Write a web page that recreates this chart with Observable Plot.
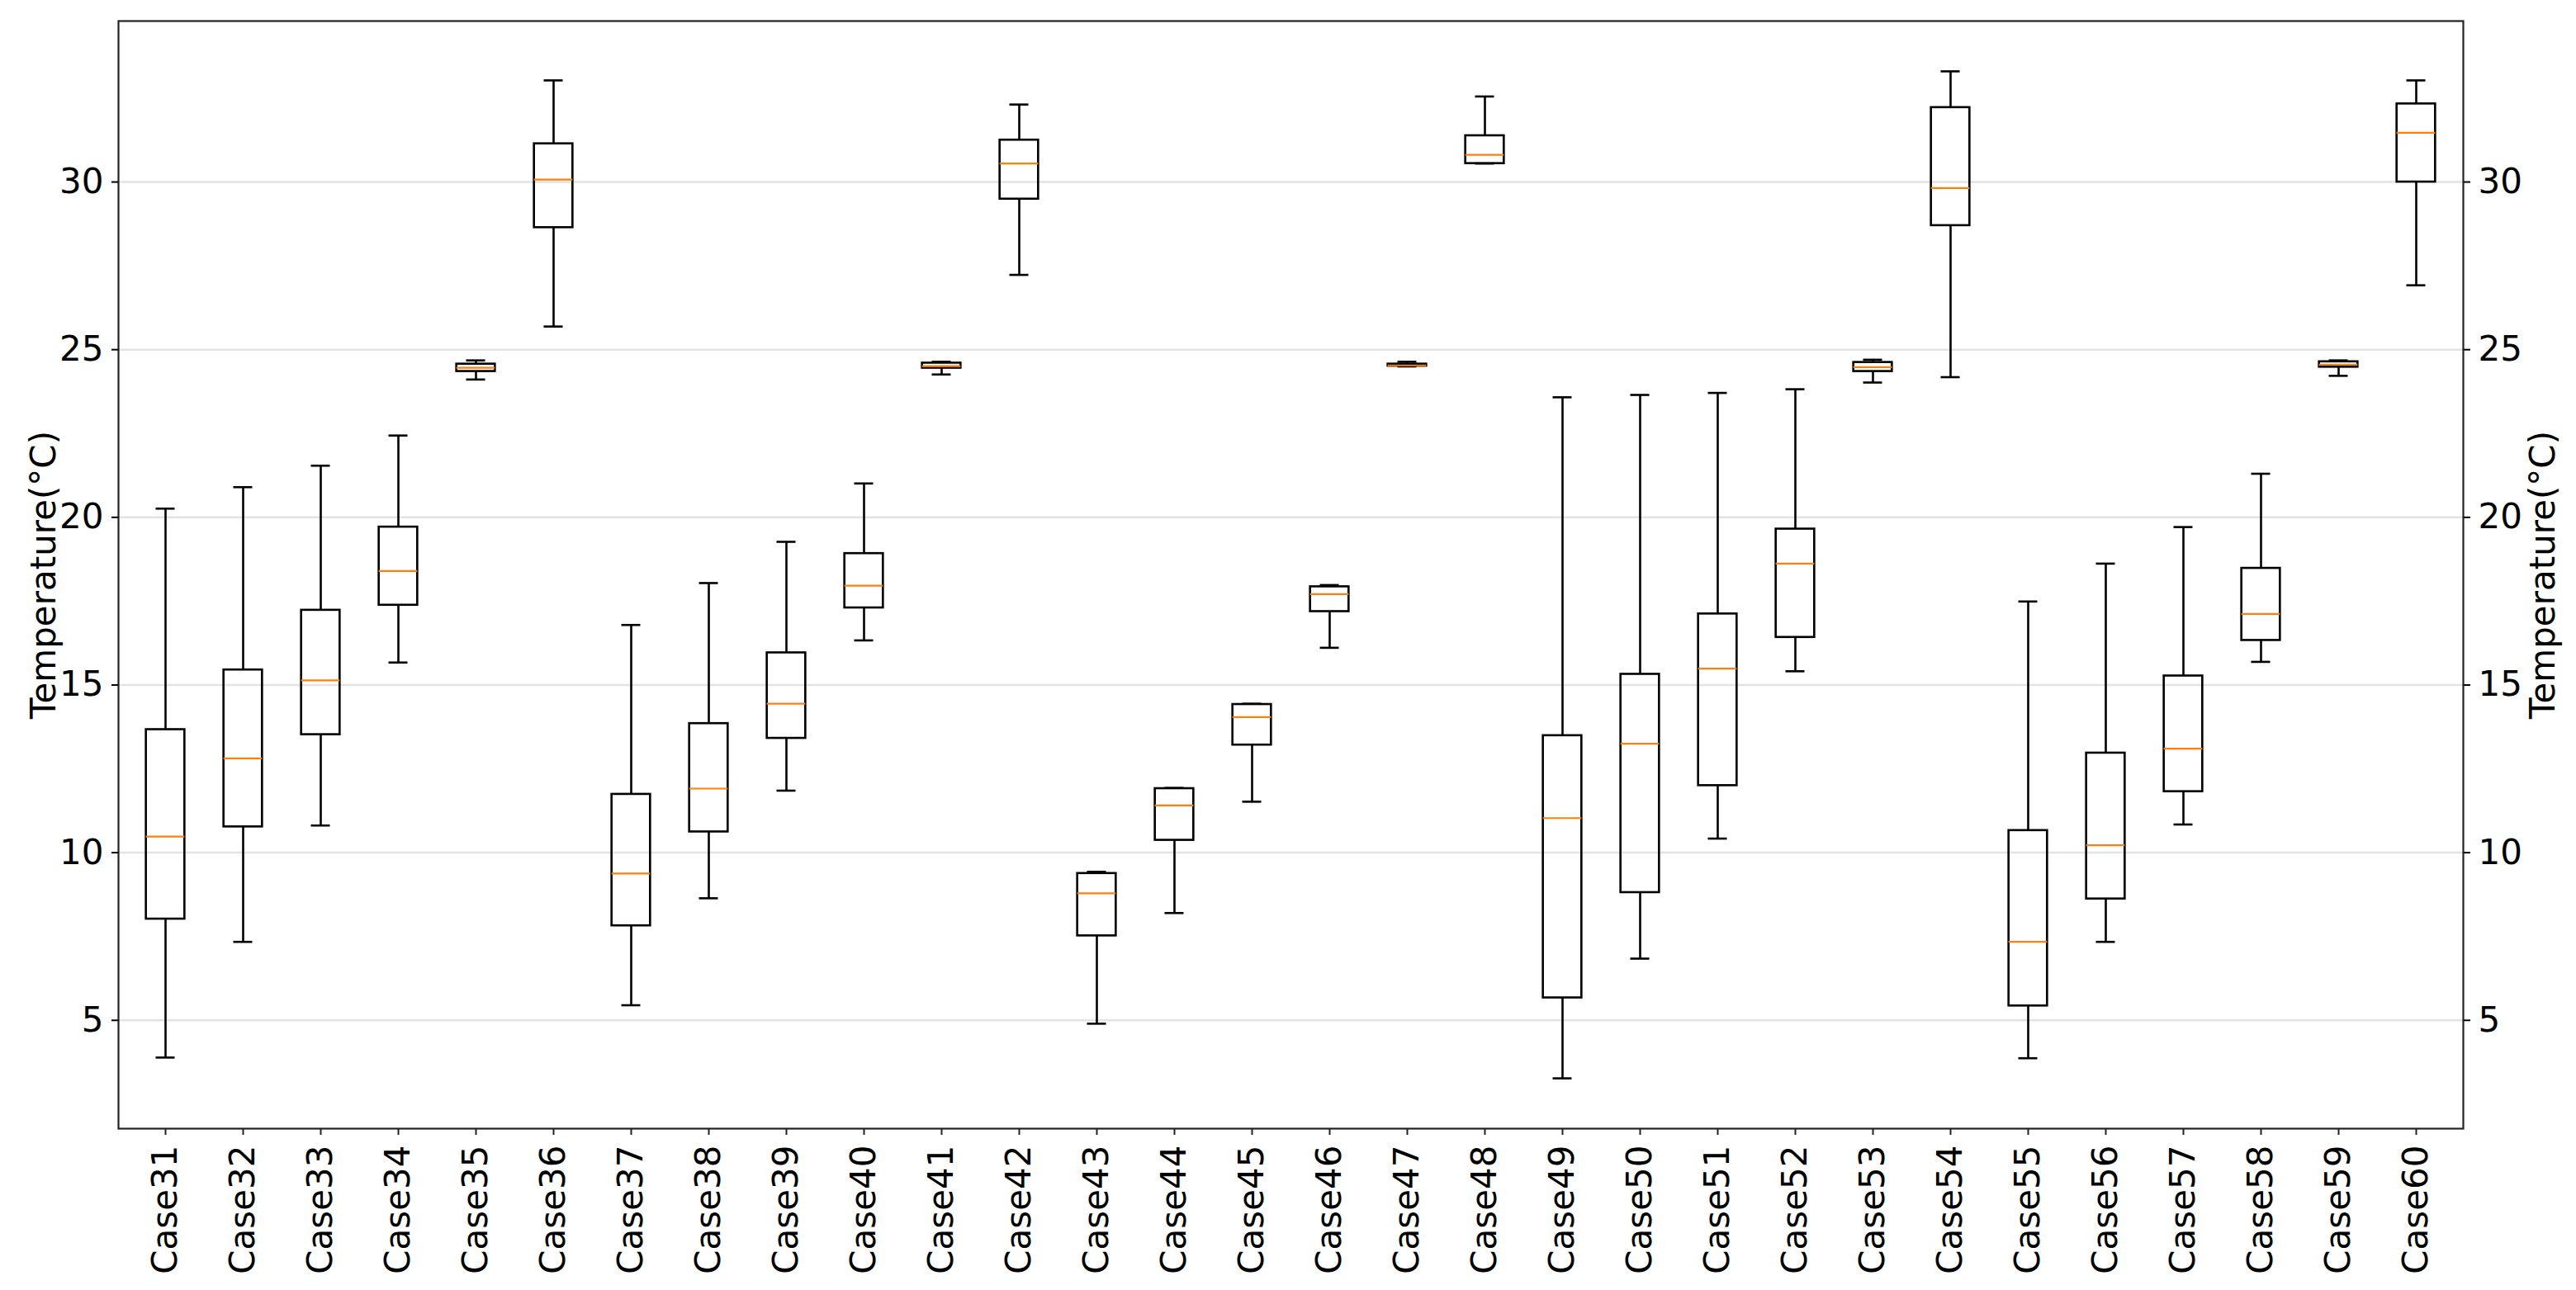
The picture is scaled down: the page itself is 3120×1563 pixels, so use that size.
<!DOCTYPE html>
<html>
<head>
<meta charset="utf-8">
<script src="https://cdn.jsdelivr.net/npm/d3@7"></script>
<script src="https://cdn.jsdelivr.net/npm/@observablehq/plot@0.6"></script>
<style>
  html, body { margin: 0; padding: 0; background: #fff; }
  #chart svg { display: block; }
</style>
</head>
<body>
<div id="chart"></div>
<script>
const categories = ["Case31","Case32","Case33","Case34","Case35","Case36","Case37","Case38","Case39","Case40",
  "Case41","Case42","Case43","Case44","Case45","Case46","Case47","Case48","Case49","Case50",
  "Case51","Case52","Case53","Case54","Case55","Case56","Case57","Case58","Case59","Case60"];

const whiskerLow  = [3.89, 7.34, 10.81, 15.67, 24.11, 25.69, 5.45, 8.64, 11.85, 16.33,
  24.26, 27.23, 4.90, 8.20, 11.52, 16.11, 24.50, 30.55, 3.27, 6.84,
  10.42, 15.41, 24.02, 24.18, 3.87, 7.34, 10.84, 15.69, 24.22, 26.92];
const q1          = [8.02, 10.77, 13.52, 17.38, 24.35, 28.64, 7.82, 10.62, 13.41, 17.30,
  24.45, 29.49, 7.52, 10.37, 13.21, 17.19, 24.51, 30.55, 5.67, 8.81,
  12.00, 16.42, 24.35, 28.70, 5.43, 8.62, 11.82, 16.33, 24.48, 30.00];
const median      = [10.48, 12.81, 15.14, 18.40, 24.46, 30.07, 9.38, 11.91, 14.44, 17.96,
  24.51, 30.55, 8.79, 11.41, 14.04, 17.71, 24.53, 30.81, 11.03, 13.25,
  15.49, 18.62, 24.48, 29.82, 7.34, 10.22, 13.10, 17.12, 24.55, 31.47];
const q3          = [13.67, 15.45, 17.23, 19.71, 24.57, 31.14, 11.74, 13.85, 15.96, 18.92,
  24.60, 31.25, 9.38, 11.91, 14.42, 17.93, 24.57, 31.38, 13.49, 15.32,
  17.12, 19.65, 24.62, 32.22, 10.66, 12.97, 15.27, 18.48, 24.64, 32.33];
const whiskerHigh = [20.26, 20.90, 21.54, 22.44, 24.68, 33.03, 16.79, 18.04, 19.27, 21.01,
  24.64, 32.31, 9.43, 11.93, 14.44, 17.98, 24.64, 32.55, 23.58, 23.65,
  23.71, 23.82, 24.70, 33.30, 17.49, 18.62, 19.71, 21.30, 24.68, 33.03];

const yTicks = [5, 10, 15, 20, 25, 30];
const yLabel = "Temperature(°C)";

const rows = categories.map((c, i) => ({
  case: c, lo: whiskerLow[i], q1: q1[i], med: median[i], q3: q3[i], hi: whiskerHigh[i]
}));

const W = 3120, H = 1563;
const mL = 143, mR = W - 2983, mT = 25, mB = H - 1367;
const bw = (W - mL - mR) / categories.length;
const boxInset = bw * 0.25;
const capInset = bw * 0.375;
const ink = "#000";

const chart = Plot.plot({
  width: W,
  height: H,
  marginLeft: mL,
  marginRight: mR,
  marginTop: mT,
  marginBottom: mB,
  style: { fontFamily: "DejaVu Sans", fontSize: "42px", background: "#fff", color: "#000" },
  x: { type: "band", domain: categories, padding: 0 },
  y: { domain: [1.77, 34.8] },
  marks: [
    Plot.gridY(yTicks, { stroke: "#e3e3e3", strokeOpacity: 1, strokeWidth: 2.5 }),
    Plot.ruleX(rows, { x: "case", y1: "lo", y2: "q1", stroke: ink, strokeWidth: 2.6 }),
    Plot.ruleX(rows, { x: "case", y1: "q3", y2: "hi", stroke: ink, strokeWidth: 2.6 }),
    Plot.tickY(rows, { x: "case", y: "lo", insetLeft: capInset, insetRight: capInset, stroke: ink, strokeWidth: 2.6 }),
    Plot.tickY(rows, { x: "case", y: "hi", insetLeft: capInset, insetRight: capInset, stroke: ink, strokeWidth: 2.6 }),
    Plot.rect(rows, { x: "case", y1: "q1", y2: "q3", insetLeft: boxInset, insetRight: boxInset, fill: "none", stroke: ink, strokeWidth: 2.6 }),
    Plot.tickY(rows, { x: "case", y: "med", insetLeft: boxInset, insetRight: boxInset, stroke: "#ff7f0e", strokeWidth: 2.2 }),
    Plot.frame({ stroke: "#222", strokeWidth: 2.2 }),
    Plot.axisX({ tickRotate: -90, tickSize: 8, tickPadding: 12, label: null, stroke: "#222", strokeWidth: 2 }),
    Plot.axisY(yTicks, { anchor: "left", tickSize: 8, tickPadding: 10, label: yLabel, labelAnchor: "center", labelArrow: "none", labelOffset: 106, strokeWidth: 2 }),
    Plot.axisY(yTicks, { anchor: "right", tickSize: 8, tickPadding: 10, label: yLabel, labelAnchor: "center", labelArrow: "none", labelOffset: 110, strokeWidth: 2 })
  ]
});

document.getElementById("chart").appendChild(chart);
</script>
</body>
</html>
